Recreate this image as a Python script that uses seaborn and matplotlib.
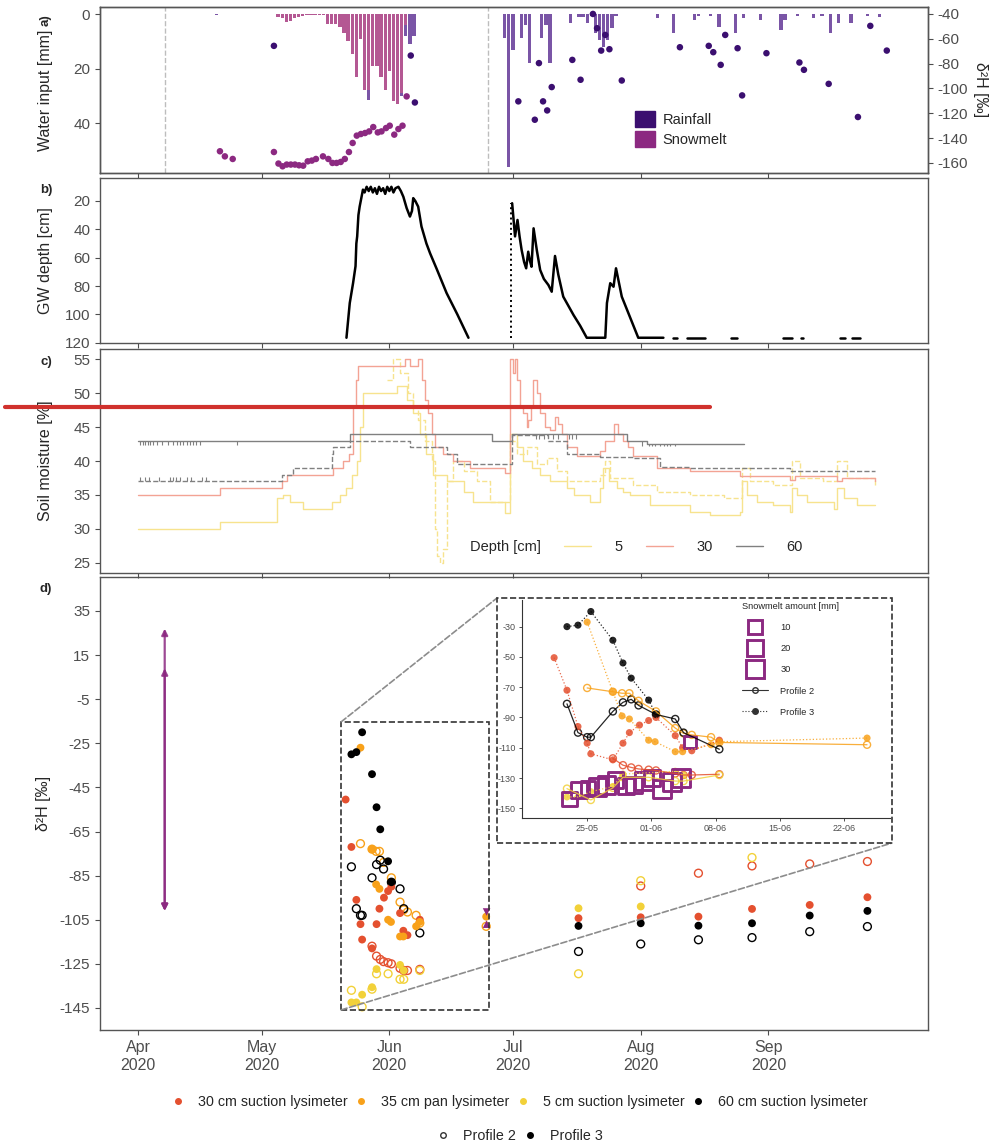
import numpy as np
import pandas as pd
import matplotlib
matplotlib.use("Agg")
import matplotlib.pyplot as plt
import matplotlib.dates as mdates
from matplotlib.lines import Line2D
from matplotlib.patches import Patch, Rectangle, ConnectionPatch
import seaborn as sns

# =========================
# DATA  (every "day" value = days since 2020-04-01)
# =========================
START = pd.Timestamp("2020-04-01")

month_ticks = ["2020-04-01", "2020-05-01", "2020-06-01",
               "2020-07-01", "2020-08-01", "2020-09-01"]
inset_ticks = ["2020-05-25", "2020-06-01", "2020-06-08",
               "2020-06-15", "2020-06-22"]

# a) water input (daily bars) and isotopes of the inputs
snow_first_day = 34
snow_mm = [1, 1.5, 3, 2.5, 1.5, 1, 0.8, 0.5, 0.5, 0.3,
           0.3, 0.5, 3.5, 3.7, 3.7, 4.7, 7, 10, 14.5, 23,
           9.3, 28, 28, 19, 19, 23, 28, 21, 32, 33,
           29, 4]
rain_day = [19, 56, 64, 65, 66, 67, 89, 90, 91, 93, 94, 95, 98, 99, 100,
            105, 107, 108, 109, 110, 111, 112, 113, 114, 115, 116,
            126, 130, 135, 136, 139, 141, 145, 147, 151, 156, 157,
            160, 164, 166, 168, 170, 173, 177, 180]
rain_mm = [0.5, 3.5, 1, 4, 11, 8, 8.9, 56, 13, 8.9, 4, 17.8, 8.9, 4, 17.8,
           3.4, 1.2, 1.2, 3.4, 0.7, 7, 9.5, 12, 9.5, 5.2, 0.7,
           1.6, 7, 2.2, 0.7, 0.7, 4.6, 7, 1.6, 2.2, 6, 2.2,
           0.7, 1.6, 0.7, 7, 3.4, 3.4, 0.7, 1.2]
rain_iso_day = [33, 66.2, 67.2, 92.3, 96.3, 97.3, 98.3, 99.3, 100.4, 105.4,
                107.4, 110.4, 111.4, 112.4, 113.4, 114.4, 117.4, 131.5, 138.5,
                139.6, 141.4, 142.5, 145.5, 146.6, 152.5, 160.5, 161.6, 167.6,
                174.7, 177.7, 181.7]
rain_iso = [-65.7, -73.5, -111.3, -110.4, -125.2, -79.6, -110.4, -117.7, -98.9, -77,
            -93, -40, -51.5, -69.5, -56.9, -68.4, -93.6, -66.8, -65.7,
            -70.8, -81, -56.9, -67.6, -105.6, -71.6, -79.1, -85, -96.3,
            -123, -49.6, -69.5]
snow_iso_day = [19.9, 21.1, 23, 33, 34.1, 35.1, 36.1, 37.1, 38.1, 39.1,
                40.1, 41.2, 42.2, 43.2, 44.9, 46.2, 47.2, 48.2, 49.2, 50.2,
                51.2, 52.1, 53.1, 54.1, 55.1, 56.1, 57.1, 58.2, 59.1, 60.2,
                61.1, 62.2, 63.2, 64.2, 65.2]
snow_iso = [-150.6, -154.7, -156.8, -151.2, -160.5, -162.7, -161.3, -161.3, -161.3, -161.9,
            -162.2, -158.7, -158.1, -156.8, -154.7, -156.8, -160, -160, -159.2, -156.8,
            -151.2, -143.9, -138, -136.7, -135.9, -134.6, -131.1, -135.4, -134.6, -131.9,
            -130, -137.2, -132.7, -130, -106.4]
vline_day = [6.5, 85]

# b) groundwater depth (nan = logger gap)
gw_day = [50.6, 51.4, 52.2, 52.8, 53.0, 53.2, 53.5, 53.8, 54.2, 54.6,
          55.0, 55.5, 56.0, 56.5, 57.0, 57.5, 58.0, 58.5, 59.0, 59.5,
          60.0, 60.5, 61.0, 61.5, 62.0, 62.5, 63.2, 63.8, 64.4, 65.2,
          66.0, 66.5, 66.8, 67.3, 68.0, 68.8, 70.0, 70.9, 72.5, 74.9,
          77.5, 80.2, np.nan,
          90.8, 91.5, 92.1, 92.6, 93.1, 93.7, 94.2, 94.7, 95.1, 95.5,
          96.0, 96.8, 97.6, 98.5, 99.6, 100.4, 101.2, 102.0, 103.2, 105.7,
          107.3, 108.9, 113.4, 113.8, 114.6, 115.4, 116.0, 117.4, 119.4, 121.4,
          127.5]
gw_depth = [116.5, 92, 78, 66, 50, 45, 30, 24, 18, 12,
            14, 10, 13, 10, 14, 11, 15, 10, 13, 11,
            15, 10, 13, 10, 14, 11, 10, 13, 17, 25,
            31, 27, 18, 20, 24, 38, 50, 57, 68, 85,
            100, 116.5, np.nan,
            21.6, 45, 33.4, 45, 54.6, 63, 67.5, 55.8, 62, 66.4,
            39.3, 55, 68.7, 75, 79.3, 84, 58.8, 72, 87.5, 100.5,
            108, 116.5, 116.5, 92, 78, 80.5, 67.5, 87.5, 102, 116.5,
            116.5]
gw_floor = 116.5
gw_floor_from = [129.9, 133.2, 143.9, 156.6, 160.9, 170.4, 173.2]
gw_floor_to = [130.7, 137.6, 145.3, 158.7, 161.3, 171.6, 175.1]
gw_restart_day = 90.5

# c) soil moisture (step series), P2 = solid, P3 = dashed
sm5_p2_day = [0, 19.9, 33.7, 35.3, 36.9, 40.1, 47.0, 49.0, 50.6, 51.9,
              53.1, 53.9, 54.7, 62.8, 65.2, 66.8, 68.4, 70.0, 71.7, 74.9,
              79.0, 81.4, 89.1, 90.3, 91.9, 93.5, 95.5, 97.6, 100.0, 104.0,
              105.7, 109.7, 112.1, 112.9, 114.2, 116.2, 117.8, 119.4, 124.3, 134.0,
              138.8, 146.1, 146.5, 147.7, 150.2, 154.2, 158.3, 158.7, 159.9, 162.3,
              168.8, 169.6, 171.2, 174.4, 178.9]
sm5_p2 = [30, 31, 34.5, 35, 34, 33, 34, 35, 36, 38,
          40, 45, 50, 51, 49, 47, 44, 41, 38, 37,
          35.5, 34, 32.3, 44, 42, 40, 39, 38, 37, 36,
          35, 34, 36, 39, 37, 36, 35.5, 35, 33.5, 32.5,
          32, 32.5, 37, 35, 34, 33.5, 32.5, 36, 35, 34,
          33, 36, 34.5, 33.5, 33.5]
sm5_p3_day = [60.4, 62.0, 63.6, 65.6, 66.8, 68.0, 69.7, 71.3, 72.1, 72.5,
              73.3, 74.1, 74.9, 76.5, 79.0, 82.2, 85.4, 90.3, 91.9, 94.3,
              96.8, 99.2, 101.6, 104.0, 108.1, 112.1, 113.4, 114.6, 120.2, 125.9,
              134.0, 142.1, 146.5, 148.5, 154.2, 158.7, 160.7, 166.3, 169.6, 172.0,
              178.9]
sm5_p3 = [52, 55, 53, 50, 48, 46, 43, 40, 30, 26,
          25, 27, 37, 40, 38.5, 37, 34, 43, 41, 42,
          39.5, 40.5, 38.5, 37, 37, 38, 40, 37.5, 36.5, 35.5,
          35, 34.5, 39, 37, 36.5, 40, 37.5, 37, 40, 37.5,
          36.5]
sm30_p2_day = [0, 19.9, 34.9, 36.1, 47.4, 49.8, 51.1, 52.3, 52.9, 53.5,
               64.8, 66.0, 68.0, 68.9, 69.7, 70.5, 71.3, 72.1, 74.1, 76.5,
               80.6, 89.1, 90.3, 91.0, 91.4, 92.0, 92.7, 93.5, 94.3, 94.7,
               95.3, 95.9, 96.8, 97.6, 98.8, 100.0, 101.2, 102.0, 102.8, 104.0,
               106.5, 112.1, 113.4, 115.4, 116.6, 117.8, 119.0, 120.2, 125.9, 134.0,
               146.1, 158.3, 159.5, 169.6, 170.8, 178.9]
sm30_p2 = [35, 36, 37, 38, 39, 40, 41, 48, 52, 54,
           55, 54, 55, 52, 49, 47, 44, 42, 41, 40,
           39, 38.2, 55, 53, 55, 52, 48, 47, 45, 46,
           48, 52, 50, 47, 45, 44.5, 46.5, 45.5, 44, 42,
           40.8, 41.5, 43, 45.5, 44, 43, 42, 40.8, 39, 38.5,
           37.8, 37.2, 37.8, 37, 37.5, 37]
sm60_p2_day = [0, 51.5, 86.0, 90.7, 118.6, 123.5, 147.0]
sm60_p2 = [43, 44, 43, 44, 43, 42.5, 42.5]
sm60_p3_day = [0, 34.9, 37.7, 47.0, 47.4, 51.5, 66.0, 74.9, 77.3, 90.7,
               99.6, 104.0, 112.1, 120.2, 126.7, 134.0, 158.3, 178.9]
sm60_p3 = [37, 38, 39, 41, 42, 43, 42, 41, 39.5, 43.8,
           43, 41.1, 40.6, 40.4, 39.1, 38.9, 38.6, 38.6]
# short sensor flickers (one-reading spikes) on the 60 cm lines
sm60_p2_flicker_day = [0.6, 1.2, 1.8, 2.4, 3.0, 3.6, 4.6, 5.8, 7.2, 8.6,
                       9.4, 10.2, 11.0, 11.8, 12.6, 13.4, 14.2, 15.0, 24.1,
                       96.5, 97.4, 98.6, 100.8, 101.9, 104.6, 105.4, 106.2,
                       122.4, 123.9, 124.7, 125.5, 126.6, 127.6, 128.4, 129.2, 130.4]
sm60_p2_flicker_tip = [42.3] * 19 + [43.3] * 8 + [42.2] * 9
sm60_p3_flicker_day = [0.5, 1.6, 2.8, 5.2, 7.8, 8.4, 9.2, 10.1, 11.9, 12.8, 15.6, 16.6]
sm60_p3_flicker_tip = [37.6] * 12

# d) soil water isotopes
d30_p2_day = [56.8, 57.9, 58.8, 59.6, 60.7, 61.5, 63.6, 64.5, 65.4, 68.4,
              122, 136, 149, 163, 177]
d30_p2 = [-117, -121.5, -123, -124, -124.5, -125, -127, -128, -128, -127.5,
          -89.7, -83.9, -80.6, -79.7, -78.6]
d30_p3_day = [50.4, 51.8, 53.0, 54.0, 54.4, 56.8, 57.9, 58.6, 59.7, 60.7,
              61.5, 63.6, 64.4, 65.4, 68.4, 106.9, 122, 136, 149, 163, 177]
d30_p3 = [-50.5, -72, -96, -107, -114, -118, -107, -100, -95, -92,
          -90, -102, -110, -112, -105, -104.3, -103.9, -103.6, -100.1, -98.3, -94.8]
d35_p2_day = [54.0, 56.8, 57.8, 58.6, 59.6, 61.5, 63.6, 64.5, 65.4, 67.5, 68.4, 84.5]
d35_p2 = [-70.5, -73, -74, -74, -79, -86, -97, -100.5, -101.5, -103, -106.5, -108]
d35_p3_day = [54.0, 56.8, 57.8, 58.6, 60.7, 61.4, 63.6, 64.4, 67.5, 68.4, 84.5]
d35_p3 = [-27, -73, -89, -91, -105, -106, -112.6, -112.6, -108, -106, -103.6]
d5_p2_day = [51.8, 54.4, 56.8, 57.9, 60.7, 63.6, 64.5, 68.4, 106.9, 122, 149]
d5_p2 = [-137, -144.5, -136.5, -129.5, -129.5, -132, -132, -128, -129.5, -87.3, -76.8]
d5_p3_day = [51.8, 53.0, 54.4, 56.8, 57.9, 63.6, 64.5, 106.9, 122]
d5_p3 = [-142.5, -142.5, -139, -135.6, -127.4, -125.5, -128, -99.8, -99]
d60_p2_day = [51.8, 53.0, 54.0, 54.4, 56.8, 57.9, 58.8, 59.6, 61.5, 63.6,
              64.5, 68.4, 106.9, 122, 136, 149, 163, 177]
d60_p2 = [-81, -100, -103, -103, -86, -80, -78, -82, -88, -91,
          -100, -111, -119.4, -116, -114.1, -113.1, -110.4, -108.1]
d60_p3_day = [51.8, 53.0, 54.4, 56.8, 57.9, 58.8, 60.7, 61.5,
              106.9, 122, 136, 149, 163, 177]
d60_p3 = [-30, -29, -20, -39, -54, -64, -78.5, -88,
          -107.8, -106.6, -107.7, -106.6, -103.1, -101]
extra_day = [84.6, 84.6]
extra_d2H = [-101.5, -107]
arrow_day = 6.5
arrow_low = [-101, -101]
arrow_high = [27, 9]
square_from_day = 52
square_legend_mm = [10, 20, 30]
zoom_days = [49.3, 85.2]
zoom_d2H = [-145.9, -15.3]
inset_days = [46.9, 87.0]

# =========================
# STYLE
# =========================
sns.set_style("white")
plt.rcParams["font.family"] = ["Liberation Sans", "DejaVu Sans"]
plt.rcParams["axes.unicode_minus"] = False

RAIN_PT = "#3B0F70"
SNOW_PT = "#8C2981"
RAIN_BAR = "#7A55A6"
SNOW_BAR = "#B45893"
TICK = "#4D4D4D"
depth_pal = {
    "30 cm suction lysimeter": "#E4502F",
    "35 cm pan lysimeter": "#F8A11A",
    "5 cm suction lysimeter": "#F2D139",
    "60 cm suction lysimeter": "#000000",
}
sm_pal = {"5": "#F7E38E", "30": "#F3A394", "60": "#808080"}
SQ_SIZES = (62, 165)   # marker area for 0 mm and 30 mm of snowmelt


def to_date(days):
    return START + pd.to_timedelta(np.atleast_1d(np.asarray(days, dtype=float)), unit="D")


def hollow(coll, lw, color=None):
    fc = coll.get_facecolors() if color is None else color
    coll.set_edgecolors(fc)
    coll.set_facecolors("none")
    coll.set_linewidths(lw)


def frame(ax):
    for s in ax.spines.values():
        s.set_visible(True)
        s.set_color("#555555")
        s.set_linewidth(1.0)
    ax.tick_params(direction="out", length=3.5, width=0.8, color=TICK,
                   labelcolor=TICK, labelsize=11, bottom=True, left=True)


W, H = 995, 1148
fig = plt.figure(figsize=(W / 100, H / 100), dpi=100)


def px_axes(x0, y0, x1, y1, **kw):
    return fig.add_axes([x0 / W, 1 - y1 / H, (x1 - x0) / W, (y1 - y0) / H], **kw)


ax_d = px_axes(100, 577, 928, 1030)
ax_a = px_axes(100, 7, 928, 173, sharex=ax_d)
ax_b = px_axes(100, 178, 928, 343, sharex=ax_d)
ax_c = px_axes(100, 349, 928, 573, sharex=ax_d)

for ax in [ax_a, ax_b, ax_c, ax_d]:
    frame(ax)

ax_d.set_xlim(to_date(-9.2)[0], to_date(191.7)[0])
ax_d.set_xticks(pd.to_datetime(month_ticks))
ax_d.xaxis.set_major_formatter(mdates.DateFormatter("%b\n%Y"))
for ax in [ax_a, ax_b, ax_c]:
    ax.tick_params(labelbottom=False)

# =========================
# a) WATER INPUT
# =========================
snow = pd.Series(snow_mm, index=range(snow_first_day, snow_first_day + len(snow_mm)))
rain = pd.Series(rain_mm, index=rain_day)
water = pd.DataFrame({"snow": snow, "rain": rain}).fillna(0).sort_index()
water["date"] = to_date(water.index)

ax_a.bar(water["date"], water["snow"], width=0.8, color=SNOW_BAR, linewidth=0)
ax_a.bar(water["date"], water["rain"], bottom=water["snow"], width=0.8,
         color=RAIN_BAR, linewidth=0)
for d in vline_day:
    ax_a.axvline(to_date(d)[0], color="#BDBDBD", ls="--", lw=1)
ax_a.set_ylim(58.3, -2.6)
ax_a.set_yticks([0, 20, 40])
ax_a.set_ylabel("Water input [mm]", fontsize=11.5, va="center")
ax_a.yaxis.set_label_coords(-0.066, 0.5)

ax_r = ax_a.twinx()
frame(ax_r)
ax_r.tick_params(right=True, left=False, labelright=True, labelleft=False)
sns.scatterplot(x=to_date(rain_iso_day), y=rain_iso, color=RAIN_PT, s=22,
                edgecolor="none", ax=ax_r)
sns.scatterplot(x=to_date(snow_iso_day), y=snow_iso, color=SNOW_PT, s=22,
                edgecolor="none", ax=ax_r)
ax_r.set_ylim(-168.1, -34.4)
ax_r.set_yticks(range(-40, -161, -20))
ax_r.set_ylabel("δ²H [‰]", fontsize=11.5, rotation=270, va="center")
ax_r.yaxis.set_label_coords(1.063, 0.5)
ax_r.legend(handles=[Patch(color=RAIN_PT, label="Rainfall"),
                     Patch(color=SNOW_PT, label="Snowmelt")],
            loc="upper left", bbox_to_anchor=(0.646, 0.375), frameon=False,
            fontsize=10.5, handlelength=1.35, handleheight=1.35,
            handletextpad=0.55, labelspacing=0.25, borderpad=0, borderaxespad=0)

# =========================
# b) GROUNDWATER
# =========================
gw = pd.DataFrame({"day": gw_day, "depth": gw_depth})
gw["seg"] = gw["day"].isna().cumsum()
floor = pd.DataFrame({
    "day": np.ravel(np.column_stack([gw_floor_from, gw_floor_to])),
    "depth": gw_floor,
    "seg": np.repeat(np.arange(len(gw_floor_from)) + 10, 2),
})
gw = pd.concat([gw.dropna(), floor], ignore_index=True)
gw["date"] = to_date(gw["day"])
sns.lineplot(data=gw, x="date", y="depth", units="seg", estimator=None,
             color="black", lw=1.8, ax=ax_b)
ax_b.plot(to_date([gw_restart_day, gw_restart_day]), [gw_floor, gw_depth[43]],
          color="black", ls=":", lw=1.4)
ax_b.set_ylim(120.2, 3.8)
ax_b.set_yticks(range(20, 121, 20))
ax_b.set_xlabel("")
ax_b.set_ylabel("GW depth [cm]", fontsize=11.5, va="center")
ax_b.yaxis.set_label_coords(-0.066, 0.5)

# =========================
# c) SOIL MOISTURE
# =========================
sm_series = [
    ("5", "-", sm5_p2_day, sm5_p2), ("5", "--", sm5_p3_day, sm5_p3),
    ("30", "-", sm30_p2_day, sm30_p2),
    ("60", "-", sm60_p2_day, sm60_p2), ("60", "--", sm60_p3_day, sm60_p3),
]
for depth, ls, days, vals in sm_series:
    sns.lineplot(x=to_date(days), y=vals, color=sm_pal[depth], lw=1.0,
                 linestyle=ls, drawstyle="steps-post", estimator=None, ax=ax_c)

# flickers: short ticks from the running step value to the spike value
for days, vals, fdays, tips in [(sm60_p2_day, sm60_p2, sm60_p2_flicker_day, sm60_p2_flicker_tip),
                                (sm60_p3_day, sm60_p3, sm60_p3_flicker_day, sm60_p3_flicker_tip)]:
    base = np.asarray(vals)[np.searchsorted(days, fdays, side="right") - 1]
    ax_c.vlines(to_date(fdays), base, tips, color=sm_pal["60"], lw=0.8)

ax_c.set_ylim(23.5, 56.5)
ax_c.set_yticks(range(25, 56, 5))
ax_c.set_ylabel("Soil moisture [%]", fontsize=11.5, va="center")
ax_c.yaxis.set_label_coords(-0.066, 0.5)
ax_c.text((470 - 100) / 828, (573 - 547) / 224, "Depth [cm]", transform=ax_c.transAxes,
          fontsize=10.5, va="center", ha="left")
ax_c.legend(handles=[Line2D([], [], color=sm_pal[k], lw=1.0, label=k) for k in sm_pal],
            loc="center left", bbox_to_anchor=((564 - 100) / 828, (573 - 547) / 224),
            ncol=3, frameon=False, fontsize=10.5, handlelength=1.85,
            handletextpad=1.6, columnspacing=1.6, borderpad=0, borderaxespad=0)

# =========================
# d) SOIL WATER ISOTOPES
# =========================
iso_series = [
    ("30 cm suction lysimeter", "Profile 2", d30_p2_day, d30_p2),
    ("30 cm suction lysimeter", "Profile 3", d30_p3_day, d30_p3),
    ("35 cm pan lysimeter", "Profile 2", d35_p2_day, d35_p2),
    ("35 cm pan lysimeter", "Profile 3", d35_p3_day, d35_p3),
    ("5 cm suction lysimeter", "Profile 2", d5_p2_day, d5_p2),
    ("5 cm suction lysimeter", "Profile 3", d5_p3_day, d5_p3),
    ("60 cm suction lysimeter", "Profile 2", d60_p2_day, d60_p2),
    ("60 cm suction lysimeter", "Profile 3", d60_p3_day, d60_p3),
]
iso = pd.concat([pd.DataFrame({"day": d, "d2H": v, "depth": dep, "profile": p})
                 for dep, p, d, v in iso_series], ignore_index=True)
iso["date"] = to_date(iso["day"])


def iso_points(ax, data, s, alpha=1.0):
    for prof in ["Profile 2", "Profile 3"]:
        n0 = len(ax.collections)
        sns.scatterplot(data=data[data["profile"] == prof], x="date", y="d2H",
                        hue="depth", palette=depth_pal, s=s, edgecolor="none",
                        alpha=alpha, legend=False, ax=ax)
        if prof == "Profile 2":
            hollow(ax.collections[n0], 1.0)


iso_points(ax_d, iso, 32)
sns.scatterplot(x=to_date(extra_day[:1]), y=extra_d2H[:1], marker="v", s=30,
                color=SNOW_PT, edgecolor="none", ax=ax_d)
sns.scatterplot(x=to_date(extra_day[1:]), y=extra_d2H[1:], marker="^", s=30,
                color=SNOW_PT, edgecolor="none", ax=ax_d)
for lo, hi in zip(arrow_low, arrow_high):
    xa = mdates.date2num(to_date(arrow_day)[0])
    ax_d.annotate("", xy=(xa, hi), xytext=(xa, lo),
                  arrowprops=dict(arrowstyle="<|-|>", color=SNOW_PT, lw=1.6,
                                  alpha=0.85, mutation_scale=9, shrinkA=0, shrinkB=0))
ax_d.set_ylim(-155, 50.4)
ax_d.set_yticks(range(35, -146, -20))
ax_d.set_xlabel("")
ax_d.set_ylabel("δ²H [‰]", fontsize=11.5, va="center")
ax_d.yaxis.set_label_coords(-0.068, 0.5)
ax_d.tick_params(axis="x", labelsize=11.5, pad=4)

# zoom box + connectors
zx0, zx1 = mdates.date2num(to_date(zoom_days))
ax_d.add_patch(Rectangle((zx0, zoom_d2H[0]), zx1 - zx0, zoom_d2H[1] - zoom_d2H[0],
                         fill=False, ls="--", ec="#333333", lw=1.2))
for ya, fx, fy in [(zoom_d2H[1], 497, 598), (zoom_d2H[0], 892, 843)]:
    fig.add_artist(ConnectionPatch(xyA=(zx0, ya), coordsA=ax_d.transData,
                                   xyB=(fx / W, 1 - fy / H), coordsB=fig.transFigure,
                                   ls="--", color="#8C8C8C", lw=1.2))
fig.add_artist(Rectangle((497 / W, 1 - 843 / H), (892 - 497) / W, (843 - 598) / H,
                         transform=fig.transFigure, fill=False, ls="--",
                         ec="#333333", lw=1.2))

# =========================
# INSET
# =========================
ax_in = px_axes(522, 600, 890, 818)
iso_in = iso[iso["day"] < inset_days[1]]
for prof, ls in [("Profile 2", "-"), ("Profile 3", ":")]:
    sns.lineplot(data=iso_in[iso_in["profile"] == prof], x="date", y="d2H",
                 hue="depth", palette=depth_pal, estimator=None, sort=True,
                 lw=0.9, linestyle=ls, alpha=0.85, legend=False, ax=ax_in)
iso_points(ax_in, iso_in, 26, alpha=0.85)

sq = pd.DataFrame({"day": snow_iso_day, "d2H": snow_iso})
sq = sq[sq["day"] >= square_from_day].copy()
sq["amount"] = [snow_mm[int(d) - snow_first_day] for d in sq["day"]]
sq["date"] = to_date(sq["day"])
n0 = len(ax_in.collections)
sns.scatterplot(data=sq, x="date", y="d2H", size="amount", sizes=SQ_SIZES,
                size_norm=(0, 30), marker="s", color=SNOW_PT, legend=False, ax=ax_in)
hollow(ax_in.collections[n0], 2.1, SNOW_PT)

ax_in.set_xlim(to_date(inset_days))
ax_in.set_ylim(-156.4, -12.4)
ax_in.set_yticks(range(-30, -151, -20))
ax_in.set_xticks(pd.to_datetime(inset_ticks))
ax_in.xaxis.set_major_formatter(mdates.DateFormatter("%d-%m"))
ax_in.set_xlabel("")
ax_in.set_ylabel("")
for side in ["top", "right"]:
    ax_in.spines[side].set_visible(False)
for side in ["left", "bottom"]:
    ax_in.spines[side].set_color("#333333")
    ax_in.spines[side].set_linewidth(0.8)
ax_in.tick_params(direction="out", length=2.5, width=0.6, color="#333333",
                  labelcolor=TICK, labelsize=6.5, bottom=True, left=True, pad=2)

sq_handles = [Line2D([], [], marker="s", ls="", mfc="none", mec=SNOW_PT, mew=2.1,
                     ms=np.sqrt(SQ_SIZES[0] + (SQ_SIZES[1] - SQ_SIZES[0]) * a / 30),
                     label=str(a)) for a in square_legend_mm]
prof_handles = [
    Line2D([], [], color="#333333", lw=0.8, marker="o", mfc="none", ms=4, label="Profile 2"),
    Line2D([], [], color="#333333", lw=0.8, ls=":", marker="o", ms=4, label="Profile 3"),
]
ax_in.legend(handles=sq_handles + prof_handles, title="Snowmelt amount [mm]",
             loc="upper left", bbox_to_anchor=(0.598, 0.99), frameon=False,
             fontsize=6.7, title_fontsize=6.7, labelspacing=1.3, handlelength=2.8,
             handletextpad=1.3, borderpad=0, borderaxespad=0, alignment="left")

# =========================
# FIGURE LEGENDS, LABELS
# =========================
fig.legend(handles=[Line2D([], [], marker="o", ls="", color=c, ms=4, label=k)
                    for k, c in depth_pal.items()],
           loc="center", bbox_to_anchor=(0.522, 1 - 1102 / H), ncol=4, frameon=False,
           fontsize=10.3, handlelength=1.0, handletextpad=0.9, columnspacing=0.45)
fig.legend(handles=[Line2D([], [], marker="o", ls="", mfc="none", mec="#333333", ms=4,
                           label="Profile 2"),
                    Line2D([], [], marker="o", ls="", color="black", ms=4, label="Profile 3")],
           loc="center", bbox_to_anchor=(0.522, 1 - 1136 / H), ncol=2, frameon=False,
           fontsize=10.3, handlelength=1.0, handletextpad=0.9, columnspacing=0.45)

fig.text(46 / W, 1 - 20 / H, "a)", rotation=90, fontsize=9.5, fontweight="bold",
         ha="center", va="center")
for lab, y in [("b)", 190), ("c)", 362), ("d)", 589)]:
    fig.text(46 / W, 1 - y / H, lab, fontsize=9.5, fontweight="bold",
             ha="center", va="center")

# overlaid red marker line
fig.add_artist(Line2D([5 / W, 710 / W], [1 - 407 / H, 1 - 407 / H],
                      transform=fig.transFigure, color="#D0312D", lw=3))

fig.savefig("out.png", dpi=100)
plt.close(fig)
